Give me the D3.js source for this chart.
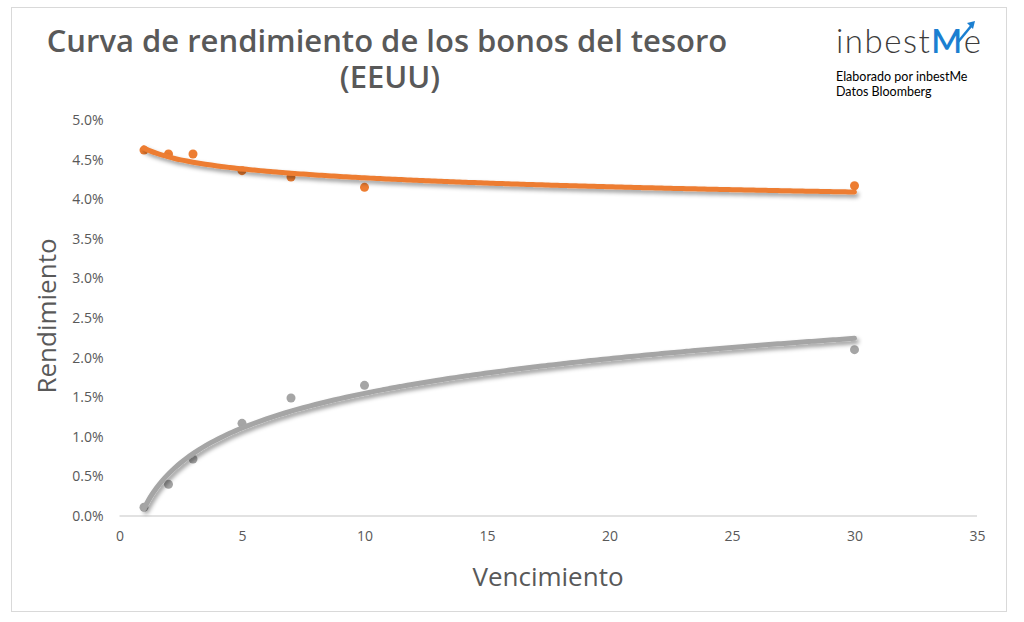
<!DOCTYPE html>
<html>
<head>
<meta charset="utf-8">
<script src="https://cdn.jsdelivr.net/npm/d3@7"></script>
<style>
  body { margin: 0; background: #fff; }
  text { font-family: "Open Sans", sans-serif; }
</style>
</head>
<body>
<svg id="chart" width="1024" height="622"></svg>
<script>
// Treasury yield curve (USA), two dates, with log trendlines

var maturities = [1, 2, 3, 5, 7, 10, 30];
var yieldsNow = [4.62, 4.57, 4.57, 4.36, 4.28, 4.15, 4.17];
var yieldsBefore = [0.11, 0.40, 0.72, 1.17, 1.49, 1.65, 2.10];
var xTicks = [0, 5, 10, 15, 20, 25, 30, 35];
var yTicks = [0, 0.5, 1, 1.5, 2, 2.5, 3, 3.5, 4, 4.5, 5];

var svg = d3.select("#chart");
var textColor = "#595959";

// frame
svg.append("rect")
  .attr("x", 11.5).attr("y", 7.5)
  .attr("width", 995).attr("height", 604)
  .attr("fill", "#fff")
  .attr("stroke", "#d9d9d9")
  .attr("stroke-width", 1);

var defs = svg.append("defs");
defs.append("filter")
  .attr("id", "shadow")
  .attr("x", "-10%").attr("y", "-50%")
  .attr("width", "130%").attr("height", "200%")
  .append("feDropShadow")
  .attr("dx", 2).attr("dy", 3)
  .attr("stdDeviation", 2)
  .attr("flood-color", "#000")
  .attr("flood-opacity", 0.4);

var x = d3.scaleLinear().domain([0, 35]).range([119.5, 977]);
var y = d3.scaleLinear().domain([0, 5]).range([516, 120]);

// baseline
svg.append("line")
  .attr("x1", x(0)).attr("x2", x(35))
  .attr("y1", y(0)).attr("y2", y(0))
  .attr("stroke", "#d9d9d9")
  .attr("stroke-width", 1.5);

// axes
var xAxis = svg.append("g")
  .attr("transform", "translate(0," + y(0) + ")")
  .call(d3.axisBottom(x).tickValues(xTicks).tickSize(0).tickPadding(15));
xAxis.select(".domain").remove();
xAxis.selectAll("text")
  .attr("fill", textColor)
  .style("font-size", "14px");

var yAxis = svg.append("g")
  .attr("transform", "translate(" + x(0) + ",0)")
  .call(d3.axisLeft(y).tickValues(yTicks).tickSize(0).tickPadding(16)
    .tickFormat(function(d) { return d3.format(".1f")(d) + "%"; }));
yAxis.select(".domain").remove();
yAxis.selectAll("text")
  .attr("fill", textColor)
  .style("font-size", "14px");

// log trendline from least squares on ln(x)
function logFit(xs, ys) {
  var lx = xs.map(function(v) { return Math.log(v); });
  var mx = d3.mean(lx), my = d3.mean(ys);
  var sxy = d3.sum(lx, function(v, i) { return (v - mx) * (ys[i] - my); });
  var sxx = d3.sum(lx, function(v) { return (v - mx) * (v - mx); });
  var b = sxy / sxx;
  var a = my - b * mx;
  return function(v) { return a + b * Math.log(v); };
}

var series = [
  { values: yieldsBefore, color: "#a5a5a5" },
  { values: yieldsNow, color: "#ed7d31" }
];

var line = d3.line()
  .x(function(d) { return x(d[0]); })
  .y(function(d) { return y(d[1]); })
  .curve(d3.curveMonotoneX);

series.forEach(function(s) {
  var pts = maturities.map(function(m, i) { return [m, s.values[i]]; });

  svg.append("g").selectAll("circle")
    .data(pts)
    .enter().append("circle")
    .attr("cx", function(d) { return x(d[0]); })
    .attr("cy", function(d) { return y(d[1]); })
    .attr("r", 4.5)
    .attr("fill", s.color);

  var f = logFit(maturities, s.values);
  var trend = d3.range(1, 30.01, 0.25).map(function(m) { return [m, f(m)]; });

  svg.append("path")
    .datum(trend)
    .attr("d", line)
    .attr("fill", "none")
    .attr("stroke", s.color)
    .attr("stroke-width", 5)
    .attr("stroke-linecap", "round")
    .attr("filter", "url(#shadow)");
});

// titles
var title = svg.append("text")
  .attr("text-anchor", "middle")
  .attr("fill", textColor)
  .style("font-weight", "600")
  .style("font-size", "31px");
title.append("tspan").attr("x", 387).attr("y", 52).text("Curva de rendimiento de los bonos del tesoro");
title.append("tspan").attr("x", 390).attr("y", 88).text("(EEUU)");

svg.append("text")
  .attr("x", 548).attr("y", 586)
  .attr("text-anchor", "middle")
  .attr("fill", textColor)
  .style("font-size", "26px")
  .text("Vencimiento");

svg.append("text")
  .attr("transform", "translate(56,316) rotate(-90)")
  .attr("text-anchor", "middle")
  .attr("fill", textColor)
  .style("font-size", "26px")
  .text("Rendimiento");

// logo
var logo = svg.append("text")
  .attr("x", 836).attr("y", 53)
  .attr("fill", "#3c3c3c")
  .style("font-family", "Lato, sans-serif")
  .style("font-size", "33px")
  .style("font-weight", "300")
  .style("letter-spacing", "1.5px");
logo.append("tspan").text("inbest");
logo.append("tspan").attr("fill", "#1b7fd1").style("font-weight", "600").text("M");
logo.append("tspan").text("e");

svg.append("path")
  .attr("d", "M958,42 L972,25")
  .attr("stroke", "#1b7fd1")
  .attr("stroke-width", 2.5);
svg.append("path")
  .attr("d", "M967,23 L975,21 L973,29 Z")
  .attr("fill", "#1b7fd1");

svg.append("text")
  .attr("x", 836).attr("y", 81)
  .attr("fill", "#000")
  .style("font-family", "Lato, sans-serif")
  .style("font-size", "12.5px")
  .text("Elaborado por inbestMe");
svg.append("text")
  .attr("x", 836).attr("y", 96)
  .attr("fill", "#000")
  .style("font-family", "Lato, sans-serif")
  .style("font-size", "12.5px")
  .text("Datos Bloomberg");
</script>
</body>
</html>
